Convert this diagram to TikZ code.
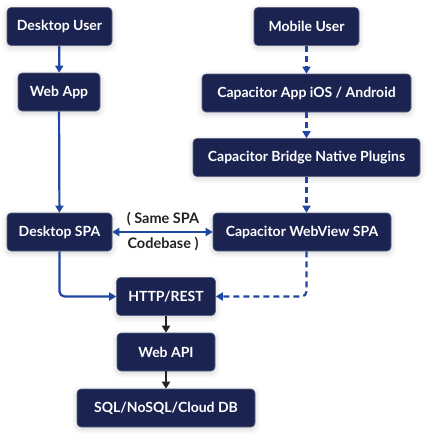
\documentclass[tikz,border=0pt]{standalone}
\usepackage{fontspec}
\setmainfont{Lato}
\usetikzlibrary{arrows.meta,shadows.blur}
\definecolor{boxfill}{HTML}{1B2350}
\definecolor{flowblue}{HTML}{1F46A0}
\definecolor{flowblack}{HTML}{222222}
\tikzset{
  box/.style={draw=boxfill!70!white, line width=0.6pt, fill=boxfill, rounded corners=4pt, text=white,
    font=\fontsize{14}{16}\selectfont\bfseries, minimum height=38pt, inner sep=0pt,
    blur shadow={shadow xshift=0pt, shadow yshift=-2pt, shadow blur steps=8, shadow blur radius=6pt, shadow opacity=18}},
  solidarrow/.style={draw=flowblue, line width=2.2pt, -{Triangle[length=7pt,width=8pt]}},
  dasharrow/.style={draw=flowblue, line width=2.2pt, dash pattern=on 6pt off 4pt, -{Triangle[length=7pt,width=8pt]}},
  blackarrow/.style={draw=flowblack, line width=2.2pt, -{Triangle[length=7pt,width=8pt]}},
  lbl/.style={font=\fontsize{14.5}{16}\selectfont\bfseries, text=flowblack, inner sep=0pt},
}
\begin{document}
\begin{tikzpicture}[x=1pt,y=-1pt]
\useasboundingbox (0,0) rectangle (433,437);
\node[box, minimum width=105pt] (du) at (59.5,26.5) {Desktop User};
\node[box, minimum width=82pt] (wa) at (59,92) {Web App};
\node[box, minimum width=105pt] (mu) at (306.5,26.5) {Mobile User};
\node[box, minimum width=209pt] (ca) at (306.5,93) {Capacitor App iOS / Android};
\node[box, minimum width=227pt] (cb) at (306.5,157.5) {Capacitor Bridge Native Plugins};
\node[box, minimum width=105pt] (ds) at (59.5,232) {Desktop SPA};
\node[box, minimum width=178pt] (ws) at (302,232) {Capacitor WebView SPA};
\node[box, minimum width=99pt] (hr) at (166,296.5) {HTTP/REST};
\node[box, minimum width=98pt] (api) at (166,352) {Web API};
\node[box, minimum width=178pt] (db) at (166,408) {SQL/NoSQL/Cloud DB};

\draw[solidarrow] (du) -- (wa);
\draw[solidarrow] (wa) -- (ds);
\draw[dasharrow] (mu) -- (ca);
\draw[dasharrow] (ca) -- (cb);
\draw[dasharrow] (cb.south) -- (ws.north -| cb.south);
\draw[draw=flowblue, line width=2.2pt, {Triangle[length=7pt,width=8pt]}-{Triangle[length=7pt,width=8pt]}] (ds) -- (ws);
\node[lbl] (l1) at (163,218.5) {( Same SPA};
\node[lbl] (l2) at (163,243.5) {Codebase )};
\draw[solidarrow, rounded corners=5pt] (ds.south) |- (hr.west);
\draw[dasharrow, rounded corners=5pt] (ws.south -| cb.south) |- (hr.east);
\draw[blackarrow] (hr) -- (api);
\draw[blackarrow] (api) -- (db);
\end{tikzpicture}
\end{document}
